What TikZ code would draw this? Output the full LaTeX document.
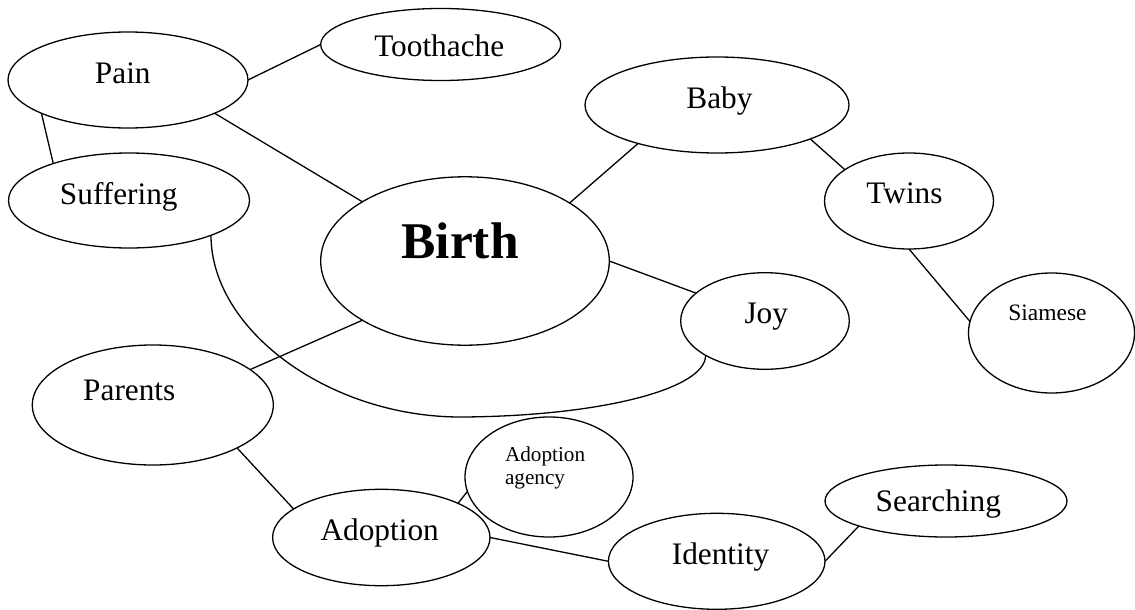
\documentclass[tikz,border=0pt]{standalone}
\usepackage{fontspec}
\setmainfont{Liberation Serif}
\usetikzlibrary{shapes.geometric}
\begin{document}
\begin{tikzpicture}[x=0.5pt,y=-0.5pt,line width=0.65pt,
  bub/.style={draw,ellipse,inner sep=0pt,outer sep=0pt},
  lbl/.style={inner sep=0pt,anchor=base,font=\fontsize{15.65}{18}\selectfont},
  small/.style={inner sep=0pt,anchor=base,font=\fontsize{11.75}{13}\selectfont},
  tiny/.style={inner sep=0pt,anchor=base west,font=\fontsize{10.6}{11}\selectfont},
  big/.style={inner sep=0pt,anchor=base,font=\fontsize{25.75}{30}\selectfont\bfseries}]
\useasboundingbox (0,0) rectangle (1135,610);
% bubbles
\node[bub,minimum width=120pt,minimum height=48pt] (pain) at (128,80) {};
\node[bub,minimum width=120pt,minimum height=36pt] (tooth) at (440.7,44.5) {};
\node[bub,minimum width=120.5pt,minimum height=47.5pt] (suff) at (129,200.5) {};
\node[bub,minimum width=144.3pt,minimum height=84.2pt] (birth) at (465,261) {};
\node[bub,minimum width=132pt,minimum height=48pt] (baby) at (717,105) {};
\node[bub,minimum width=84.5pt,minimum height=48pt] (twins) at (909,201) {};
\node[bub,minimum width=84.3pt,minimum height=48.3pt] (joy) at (765,321) {};
\node[bub,minimum width=83pt,minimum height=60pt] (siam) at (1051.5,333) {};
\node[bub,minimum width=120.5pt,minimum height=60pt] (parents) at (152.8,405) {};
\node[bub,minimum width=84pt,minimum height=60pt] (agency) at (549,477) {};
\node[bub,minimum width=108.7pt,minimum height=48.2pt] (adopt) at (381.3,537.5) {};
\node[bub,minimum width=108.3pt,minimum height=48pt] (ident) at (716.7,561.3) {};
\node[bub,minimum width=121pt,minimum height=36pt] (search) at (946,501) {};
% labels
\node[lbl] (painT) at (122.8,83.3) {Pain};
\node[lbl] (toothT) at (439.2,56.7) {Toothache};
\node[lbl] (suffT) at (118.8,204) {Suffering};
\node[big] (birthT) at (460,258.3) {Birth};
\node[lbl] (babyT) at (719.5,108.3) {Baby};
\node[lbl] (twinsT) at (904.5,203.3) {Twins};
\node[lbl] (joyT) at (766.3,323.3) {Joy};
\node[small] (siamT) at (1047.5,320) {Siamese};
\node[lbl] (parentsT) at (129.3,400) {Parents};
\node[lbl] (adoptT) at (379.7,540) {Adoption};
\node[tiny] (agencyT1) at (504.4,461.7) {Adoption};
\node[tiny] (agencyT2) at (504.4,484) {agency};
\node[lbl] (identT) at (720.5,564) {Identity};
\node[lbl] (searchT) at (938.3,511) {Searching};
% connectors
\draw (pain.east) -- (tooth.west);
\draw (pain.201.7) -- (suff.154);
\draw (pain.339.7) -- (birth.150.2);
\draw (birth.29.8) -- (baby.206.9);
\draw (baby.340.3) -- (twins.154.8);
\draw (twins.south) -- (siam.172.4);
\draw (birth.east) -- (joy.158);
\draw (birth.210.9) -- (parents.20.9);
\coordinate (low) at (463,417);
\draw (suff.337.4) .. controls +(0,95) and +(-133,1) .. (low)
      .. controls +(137,-1) and +(0,34) .. (joy.210);
\draw (parents.333.8) -- (adopt.162.1);
\draw (adopt.24.8) -- (agency.190.4);
\draw (adopt.east) -- (ident.west);
\draw (ident.east) -- (search.196.6);
\end{tikzpicture}
\end{document}
